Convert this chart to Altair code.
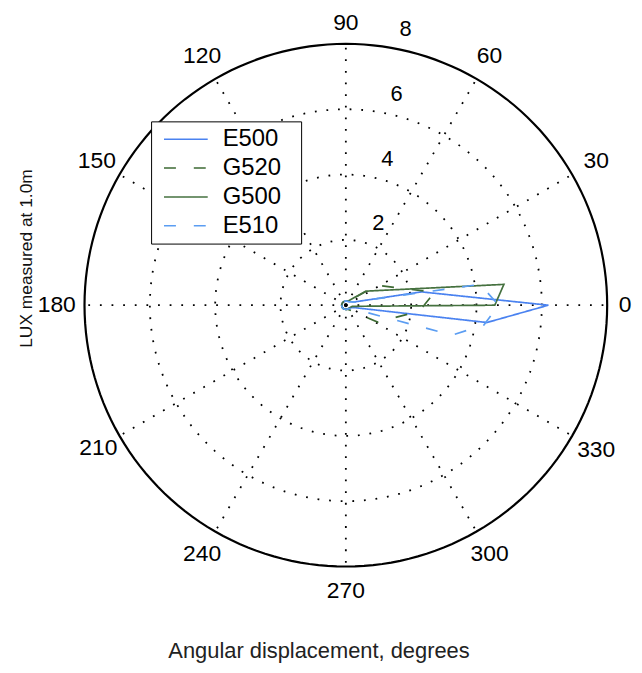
import altair as alt
import pandas as pd
import numpy as np

# ---------------- data (polar: angle in degrees, radius in LUX) ----------------
series_names = ["E500", "G520", "G500", "E510"]
series_colors = ["#4a82f0", "#3d6a33", "#45713f", "#5b9df2"]
series_dash = [[1, 0], [12, 18], [1, 0], [12, 18]]

e500_angle = [-180, -150, -120, -90, -60, -30, -15, -7, 0, 10, 20, 45, 90, 135, 180]
e500_r = [0.13, 0.13, 0.13, 0.13, 0.13, 0.15, 0.3, 4.35, 6.2, 2.35, 0.3, 0.15, 0.13, 0.13, 0.13]

g520_angle = [-180, -150, -120, -90, -60, -28, -4.6, 8.3, 32, 60, 90, 120, 150, 180]
g520_r = [0.13, 0.13, 0.13, 0.13, 0.15, 1.1, 2.26, 2.74, 1.15, 0.15, 0.13, 0.13, 0.13, 0.13]

g500_angle = [-180, -150, -120, -90, -60, -30, -10, 0, 7.5, 35, 60, 90, 120, 150, 180]
g500_r = [0.13, 0.13, 0.13, 0.13, 0.13, 0.15, 0.2, 4.56, 4.88, 0.75, 0.15, 0.13, 0.13, 0.13, 0.13]

e510_angle = [-180, -150, -120, -90, -60, -30, -15.7, -8.2, 0, 8.8, 20, 45, 90, 135, 180]
e510_r = [0.13, 0.13, 0.13, 0.13, 0.13, 0.2, 3.38, 4.27, 4.68, 4.16, 0.3, 0.15, 0.13, 0.13, 0.13]

ring_values = [2, 4, 6]
ring_labels = ["2", "4", "6", "8"]
ring_label_values = [2, 4, 6, 8]
r_max = 8
spoke_angles = list(range(0, 360, 30))
spoke_labels = [str(a) for a in spoke_angles]
spoke_label_r = [8.55, 8.85, 8.8, 8.65, 8.8, 8.8, 8.85, 8.75, 8.8, 8.75, 8.8, 8.85]

x_title = "Angular displacement, degrees"
y_title = "LUX measured at 1.0m"

# ---------------- tables ----------------
rows = []
for name, angs, rs in zip(series_names,
                          [e500_angle, g520_angle, g500_angle, e510_angle],
                          [e500_r, g520_r, g500_r, e510_r]):
    for i, (a, r) in enumerate(zip(angs, rs)):
        rows.append({"series": name, "i": i, "angle": a, "r": r})
data_df = pd.DataFrame(rows)

circ_angles = np.arange(0, 361, 2)
circle_df = pd.DataFrame([{"ring": rv, "i": k, "angle": float(a), "r": rv}
                          for rv in ring_values for k, a in enumerate(circ_angles)])
outer_df = pd.DataFrame([{"i": k, "angle": float(a), "r": r_max} for k, a in enumerate(circ_angles)])
spoke_df = pd.DataFrame([{"spoke": a, "i": j, "angle": a, "r": rr}
                         for a in spoke_angles for j, rr in enumerate([0, r_max])])
angle_lab_df = pd.DataFrame({"angle": spoke_angles, "r": spoke_label_r, "label": spoke_labels})
ring_lab_df = pd.DataFrame({"angle": [82] * 4, "r": [v + 0.1 for v in ring_label_values], "label": ring_labels})

# ---------------- scales ----------------
W, H = 630, 657
k = 32.875          # pixels per unit
cx, cy = 340, 297   # centre inside plot area
xmin = -cx / k
xmax = xmin + W / k
ymax = cy / k
ymin = ymax - H / k

xs = alt.Scale(domain=[xmin, xmax], nice=False, zero=False)
ys = alt.Scale(domain=[ymin, ymax], nice=False, zero=False)

def polar(ch):
    return ch.transform_calculate(
        px="datum.r * cos(datum.angle * PI / 180)",
        py="datum.r * sin(datum.angle * PI / 180)",
    )

X = alt.X("px:Q", scale=xs, axis=None)
Y = alt.Y("py:Q", scale=ys, axis=None)

FONT = "Liberation Sans"
dot = [1.8, 9.9]

circles = polar(alt.Chart(circle_df)).mark_line(
    color="black", strokeWidth=1.8, strokeDash=dot, strokeCap="butt"
).encode(x=X, y=Y, detail="ring:N", order="i:Q")

spokes = polar(alt.Chart(spoke_df)).mark_line(
    color="black", strokeWidth=1.8, strokeDash=dot, strokeCap="butt"
).encode(x=X, y=Y, detail="spoke:N", order="i:Q")

outer = polar(alt.Chart(outer_df)).mark_line(
    color="black", strokeWidth=2.2
).encode(x=X, y=Y, order="i:Q")

legend = alt.Legend(
    title="\u00a0", titleOrient="right", titleFontSize=1, titlePadding=14,
    orient="none", legendX=144, legendY=112,
    symbolType="M-2,0H2", symbolSize=484, symbolStrokeWidth=1.5,
    symbolOffset=17, labelOffset=25,
    labelFontSize=24, labelFont=FONT, labelColor="black",
    strokeColor="black", fillColor="white", padding=6, rowPadding=5,
)

lines = polar(alt.Chart(data_df)).mark_line(strokeWidth=1.7).encode(
    x=X, y=Y,
    color=alt.Color("series:N", scale=alt.Scale(domain=series_names, range=series_colors), legend=legend),
    strokeDash=alt.StrokeDash("series:N", scale=alt.Scale(domain=series_names, range=series_dash), legend=legend),
    order="i:Q",
)

angle_labels = polar(alt.Chart(angle_lab_df)).mark_text(
    font=FONT, fontSize=23, color="black", align="center", baseline="middle"
).encode(x=X, y=Y, text="label:N")

ring_text = polar(alt.Chart(ring_lab_df)).mark_text(
    font=FONT, fontSize=22, color="black", align="left", baseline="bottom", dx=17, dy=-2
).encode(x=X, y=Y, text="label:N")

xlab = alt.Chart(pd.DataFrame({"t": [x_title]})).mark_text(
    font=FONT, fontSize=22, color="#222", align="center", baseline="alphabetic"
).encode(x=alt.value(313), y=alt.value(652), text="t:N")

ylab = alt.Chart(pd.DataFrame({"t": [y_title]})).mark_text(
    font=FONT, fontSize=17.5, color="#111", align="center", baseline="middle", angle=270
).encode(x=alt.value(19), y=alt.value(250), text="t:N")

chart = alt.layer(circles, spokes, outer, lines, angle_labels, ring_text, xlab, ylab).properties(
    width=W, height=H, padding=0, autosize=alt.AutoSizeParams(type="none"),
    background="white",
).configure_view(stroke=None)

chart.save("out.html", embed_options={"renderer": "svg", "actions": False})
